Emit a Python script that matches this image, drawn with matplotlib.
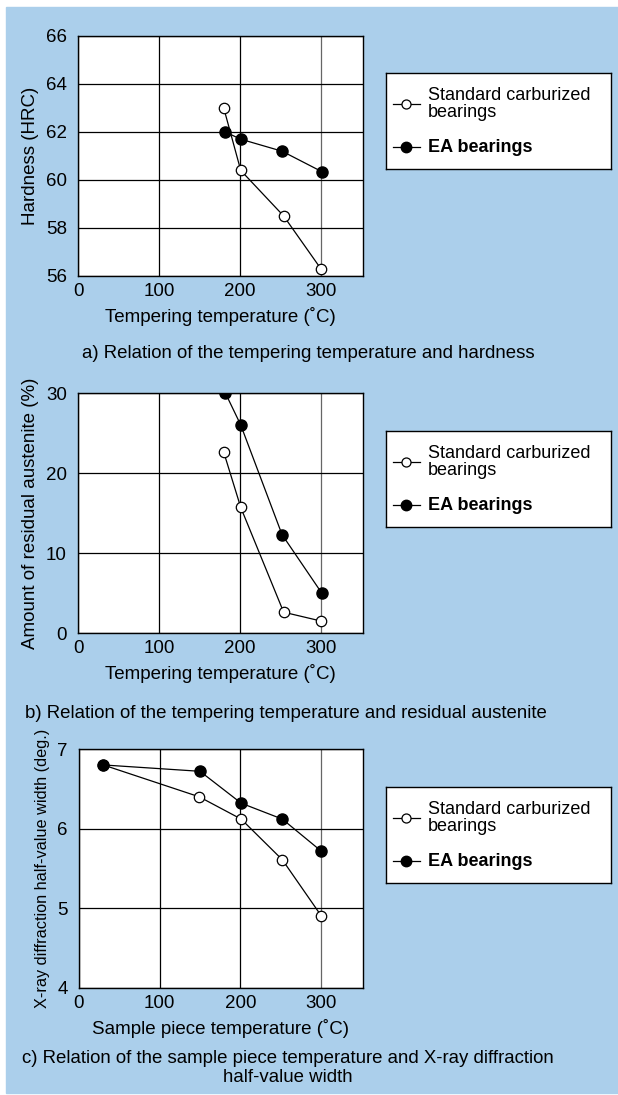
import matplotlib.pyplot as plt
from matplotlib.patches import Rectangle

plt.rcParams['font.family'] = ['Liberation Sans', 'DejaVu Sans']

# a) hardness vs tempering temperature
a_std_x = [180, 201, 254, 300]
a_std_y = [63.0, 60.4, 58.5, 56.3]
a_ea_x = [182, 201, 252, 301]
a_ea_y = [62.0, 61.7, 61.2, 60.35]

# b) residual austenite vs tempering temperature
b_std_x = [180, 201, 254, 300]
b_std_y = [22.6, 15.7, 2.6, 1.5]
b_ea_x = [182, 201, 252, 301]
b_ea_y = [30.0, 26.0, 12.3, 5.0]

# c) X-ray half-value width vs sample piece temperature
c_std_x = [30, 149, 201, 252, 300]
c_std_y = [6.8, 6.4, 6.12, 5.61, 4.91]
c_ea_x = [30, 150, 201, 252, 300]
c_ea_y = [6.8, 6.72, 6.32, 6.12, 5.72]

x_ticks = [0, 100, 200, 300]
a_yticks = [56, 58, 60, 62, 64, 66]
b_yticks = [0, 10, 20, 30]
c_yticks = [4, 5, 6, 7]

std_label = "Standard carburized\nbearings"
ea_label = "EA bearings"

BLUE = '#abcfeb'
W, H = 618, 1095

fig = plt.figure(figsize=(W / 100, H / 100), dpi=100)
fig.patches.append(Rectangle((6 / W, 2 / H), 612 / W, 1086 / H,
                             transform=fig.transFigure, color=BLUE, zorder=-10))


def px_rect(left, top, right, bottom):
    return [left / W, 1 - bottom / H, (right - left) / W, (bottom - top) / H]


def panel(rect, sx, sy, ex, ey, yticks, xlabel, ylabel, ylsize=13):
    ax = fig.add_axes(px_rect(*rect))
    ax.set_xlim(0, 352)
    ax.set_ylim(yticks[0], yticks[-1])
    ax.set_xticks(x_ticks)
    ax.set_yticks(yticks)
    ax.tick_params(length=0, labelsize=13.5)
    ax.tick_params(axis='y', pad=8)
    ax.tick_params(axis='x', pad=5)
    ax.grid(True, color='black', linewidth=0.9)
    ax.get_xgridlines()[3].set_color('#666666')
    ax.set_axisbelow(True)
    for s in ax.spines.values():
        s.set_linewidth(1.0)
    ax.plot(sx, sy, color='black', lw=0.9, marker='o', ms=7.5,
            mfc='white', mec='black', mew=0.9, zorder=3)
    ax.plot(ex, ey, color='black', lw=0.9, marker='o', ms=8,
            mfc='black', mec='black', zorder=4)
    ax.set_xlabel(xlabel, fontsize=13.5, labelpad=5)
    ax.set_ylabel(ylabel, fontsize=ylsize, labelpad=5)
    for lab in ax.get_xticklabels() + ax.get_yticklabels():
        lab.set_clip_on(False)
    return ax


def legend_box(top):
    lg = fig.add_axes(px_rect(386, top, 611, top + 96))
    lg.set_xlim(0, 1)
    lg.set_ylim(0, 1)
    lg.set_xticks([])
    lg.set_yticks([])
    for s in lg.spines.values():
        s.set_linewidth(1.0)
    y1, y2 = 0.677, 0.229
    lg.plot([0.031, 0.151], [y1, y1], color='black', lw=0.9)
    lg.plot([0.091], [y1], marker='o', ms=6.5, mfc='white', mec='black', mew=0.9)
    lg.plot([0.031, 0.151], [y2, y2], color='black', lw=0.9)
    lg.plot([0.091], [y2], marker='o', ms=7.5, mfc='black', mec='black')
    lg.text(0.187, y1, std_label, fontsize=13, va='center', ha='left', linespacing=0.95)
    lg.text(0.187, y2, ea_label, fontsize=13, va='center', ha='left', fontweight='bold')


panel((78, 36, 363, 276), a_std_x, a_std_y, a_ea_x, a_ea_y, a_yticks,
      "Tempering temperature (˚C)", "Hardness (HRC)", ylsize=13.5)
panel((78, 393, 363, 633), b_std_x, b_std_y, b_ea_x, b_ea_y, b_yticks,
      "Tempering temperature (˚C)", "Amount of residual austenite (%)", ylsize=13.5)
panel((79, 749, 363, 988), c_std_x, c_std_y, c_ea_x, c_ea_y, c_yticks,
      "Sample piece temperature (˚C)", "X-ray diffraction half-value width (deg.)",
      ylsize=11.7)

legend_box(73)
legend_box(431)
legend_box(787)

fig.text(308 / W, 1 - 353 / H, "a) Relation of the tempering temperature and hardness",
         fontsize=13.4, ha='center', va='center')
fig.text(286 / W, 1 - 713 / H, "b) Relation of the tempering temperature and residual austenite",
         fontsize=13.4, ha='center', va='center')
fig.text(288 / W, 1 - 1068 / H,
         "c) Relation of the sample piece temperature and X-ray diffraction\nhalf-value width",
         fontsize=13.4, ha='center', va='center', linespacing=1.15)

fig.savefig('out.png', dpi=100)
